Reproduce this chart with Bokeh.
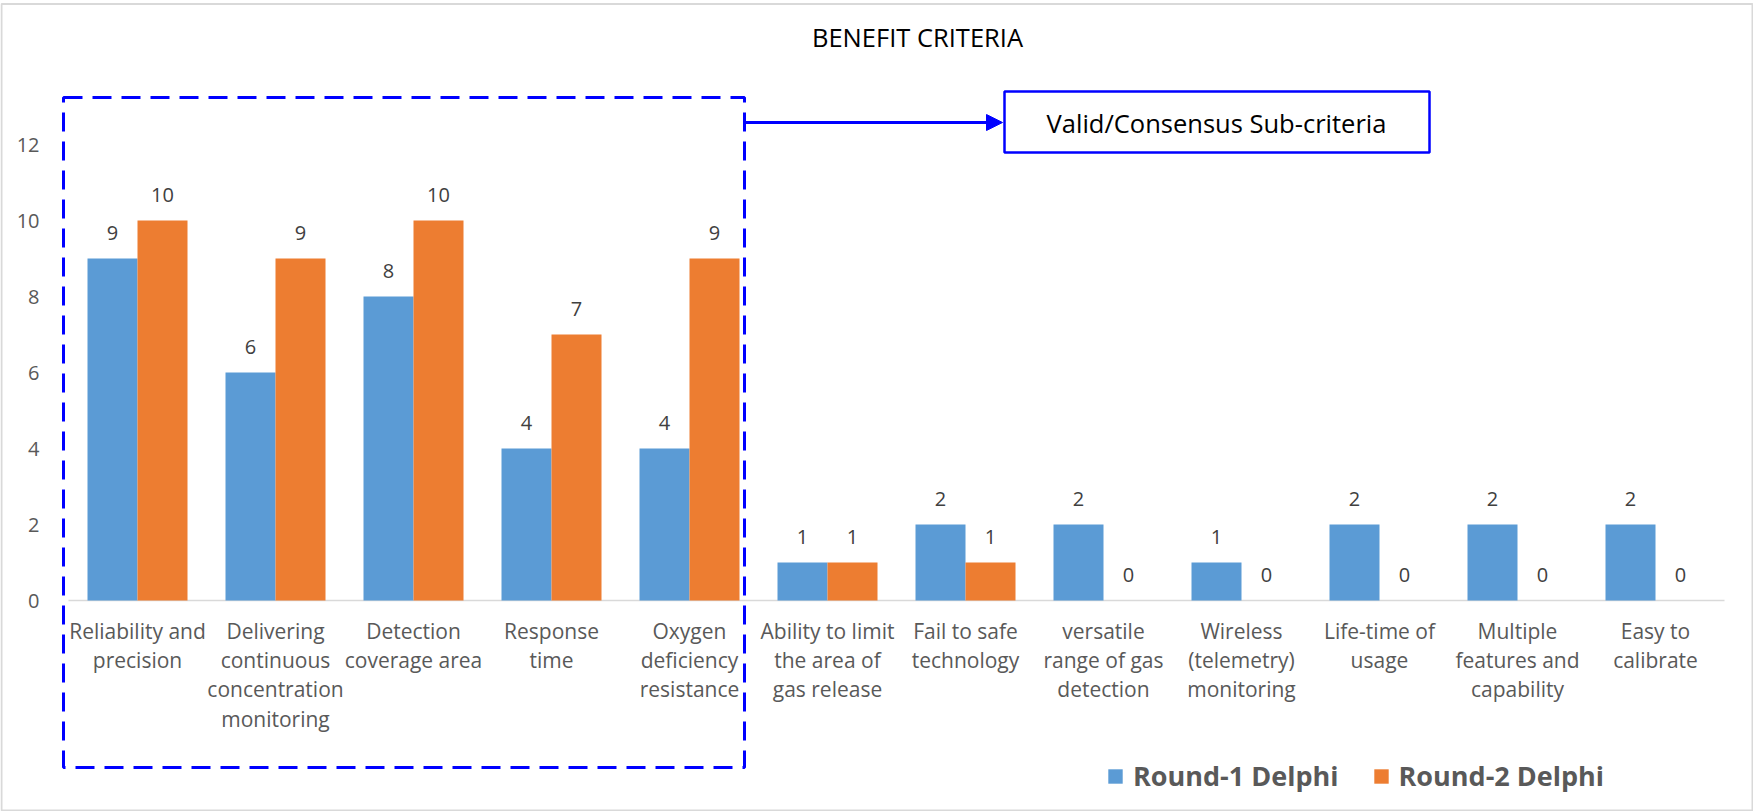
from bokeh.plotting import figure
from bokeh.models import Range1d, FixedTicker, Legend, LegendItem, Arrow, NormalHead
from bokeh.embed import file_html
from bokeh.resources import INLINE
from bokeh.core.properties import value

# ---- data -------------------------------------------------------------
categories = [
    "Reliability and\nprecision",
    "Delivering\ncontinuous\nconcentration\nmonitoring",
    "Detection\ncoverage area",
    "Response\ntime",
    "Oxygen\ndeficiency\nresistance",
    "Ability to limit\nthe area of\ngas release",
    "Fail to safe\ntechnology",
    "versatile\nrange of gas\ndetection",
    "Wireless\n(telemetry)\nmonitoring",
    "Life-time of\nusage",
    "Multiple\nfeatures and\ncapability",
    "Easy to\ncalibrate",
]
round1 = [9, 6, 8, 4, 4, 1, 2, 2, 1, 2, 2, 2]
round2 = [10, 9, 10, 7, 9, 1, 1, 0, 0, 0, 0, 0]
series_names = ["Round-1 Delphi", "Round-2 Delphi"]
y_ticks = [0, 2, 4, 6, 8, 10, 12]
title_text = "BENEFIT CRITERIA"
callout_text = "Valid/Consensus Sub-criteria"

# ---- layout geometry (pixels) ----------------------------------------
W, H = 1753, 811
CAT_PX = 138.0        # width of one category slot
UNIT_PX = 38.0        # height of one value unit
FIRST_CAT_PX = 137.0  # centre of the first category
BASE_PX = 600.0       # pixel row of value 0
BAR_PX = 50.0

FONT = value("Open Sans")
BLUE, ORANGE = "#5B9BD5", "#ED7D31"
ACCENT = "#0000FF"


def xd(px):
    return (px - FIRST_CAT_PX) / CAT_PX


def yd(py):
    return (BASE_PX - py) / UNIT_PX


p = figure(
    width=W, height=H,
    x_range=Range1d(xd(0), xd(W)), y_range=Range1d(yd(H), yd(0)),
    x_axis_location=None, y_axis_location="left",
    output_backend="svg", toolbar_location=None,
    min_border=0, min_border_left=0, min_border_right=0,
    min_border_top=0, min_border_bottom=0,
)
p.outline_line_color = None
p.xgrid.visible = False
p.ygrid.visible = False
p.background_fill_color = "white"
p.border_fill_color = "white"

# value axis drawn inside the canvas
ax = p.yaxis[0]
ax.fixed_location = xd(50)
ax.ticker = FixedTicker(ticks=y_ticks)
ax.axis_line_color = None
ax.major_tick_line_color = None
ax.minor_tick_line_color = None
ax.major_label_standoff = 5
ax.major_label_text_font = "Open Sans"
ax.major_label_text_font_size = "20px"
ax.major_label_text_color = "#595959"

# outer chart frame
p.quad(left=xd(1), right=xd(1752), top=yd(3.5), bottom=yd(810),
       fill_color=None, line_color="#D9D9D9", line_width=2)

# category baseline
p.segment(x0=xd(68), y0=0, x1=xd(1724), y1=0, line_color="#D9D9D9", line_width=1.5)

idx = list(range(len(categories)))
off = BAR_PX / 2 / CAT_PX
bw = BAR_PX / CAT_PX
x1 = [i - off for i in idx]
x2 = [i + off for i in idx]

r1 = p.vbar(x=x1, top=round1, width=bw, fill_color=BLUE, line_color=None)
r2 = p.vbar(x=x2, top=round2, width=bw, fill_color=ORANGE, line_color=None)

# value labels
for xs, vals in ((x1, round1), (x2, round2)):
    p.text(x=xs, y=vals, text=[str(v) for v in vals], text_align="center",
           text_baseline="alphabetic", y_offset=-26, text_font=FONT,
           text_font_size="20px", text_color="#404040")

# category labels
p.text(x=idx, y=[yd(616)] * len(idx), text=categories, text_align="center",
       text_baseline="top", text_line_height=1.05, text_font=FONT,
       text_font_size="21px", text_color="#595959")

# title
p.text(x=[xd(917)], y=[yd(36)], text=[title_text], text_align="center",
       text_baseline="middle", text_font=FONT, text_font_size="25.5px",
       text_color="#000000")

# dashed highlight around the consensus sub-criteria
p.quad(left=xd(63), right=xd(744), top=yd(97), bottom=yd(767),
       fill_color=None, line_color=ACCENT, line_width=3, line_dash="19 10")

# arrow to the callout
p.add_layout(Arrow(
    end=NormalHead(size=16, fill_color=ACCENT, line_color=ACCENT),
    x_start=xd(745), y_start=yd(122), x_end=xd(1002), y_end=yd(122),
    line_color=ACCENT, line_width=3,
))

# callout box
p.quad(left=xd(1004), right=xd(1429), top=yd(91), bottom=yd(152),
       fill_color="white", line_color=ACCENT, line_width=2.5)
p.text(x=[xd(1216)], y=[yd(122)], text=[callout_text], text_align="center",
       text_baseline="middle", text_font=FONT, text_font_size="25.5px",
       text_color="#000000")

# legend
legend = Legend(
    items=[LegendItem(label=series_names[0], renderers=[r1]),
           LegendItem(label=series_names[1], renderers=[r2])],
    orientation="horizontal", location=(1106, 17),
    glyph_width=18, glyph_height=18, label_standoff=9, spacing=33,
    padding=0, margin=0, border_line_color=None, background_fill_alpha=0,
    label_text_font="Open Sans", label_text_font_size="27px",
    label_text_font_style="bold", label_text_color="#595959",
)
p.add_layout(legend)

open("out.html", "w").write(file_html(p, INLINE))
